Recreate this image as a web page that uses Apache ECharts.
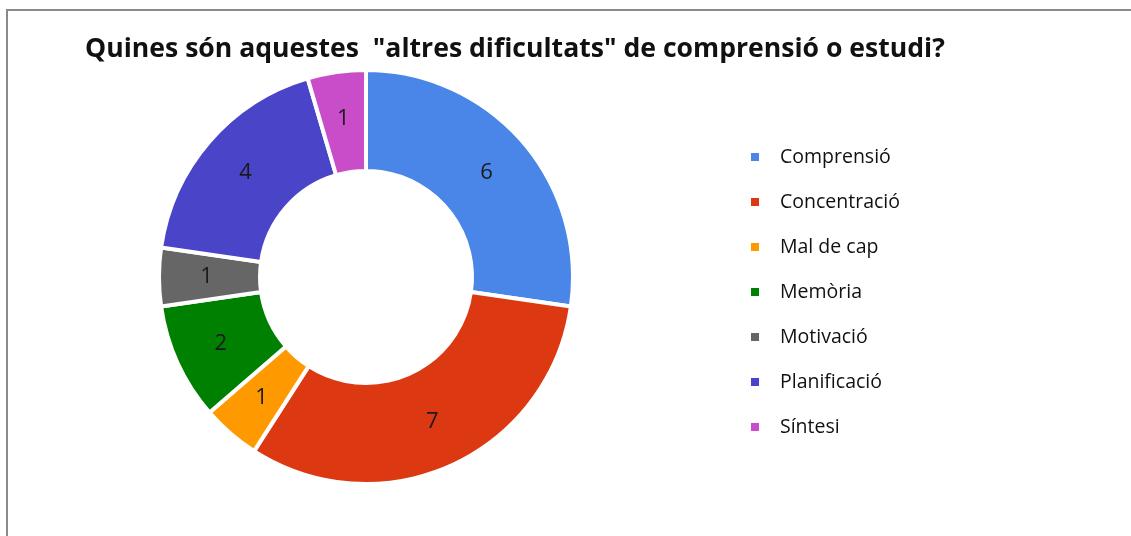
<!DOCTYPE html>
<html>
<head>
<meta charset="utf-8">
<script src="https://cdn.jsdelivr.net/npm/echarts@6/dist/echarts.min.js"></script>
<style>
  html, body { margin: 0; padding: 0; background: #fff; }
  .frame {
    position: absolute;
    left: 6px;
    top: 9px;
    width: 1200px;
    height: 600px;
    border-left: 2px solid #8a8a8a;
    border-top: 2px solid #8a8a8a;
  }
  #chart { position: absolute; left: 0; top: 0; width: 1131px; height: 536px; }
</style>
</head>
<body>
<div class="frame"></div>
<div id="chart"></div>
<script>
const categories = ['Comprensió', 'Concentració', 'Mal de cap', 'Memòria', 'Motivació', 'Planificació', 'Síntesi']
const counts = [6, 7, 1, 2, 1, 4, 1]
const colors = ['#4a86e8', '#dc3912', '#ff9900', '#008000', '#666666', '#4a44c9', '#c94dc9']

const chart = echarts.init(document.getElementById('chart'), null, { renderer: 'canvas' })

const option = {
  animation: false,
  color: colors,
  title: {
    text: 'Quines són aquestes  "altres dificultats" de comprensió o estudi?',
    left: 510,
    top: 31,
    textAlign: 'center',
    textStyle: {
      fontFamily: 'Open Sans',
      fontWeight: 'bold',
      fontSize: 26.6,
      color: '#111'
    }
  },
  legend: {
    orient: 'vertical',
    left: 744,
    top: 140,
    icon: 'rect',
    itemWidth: 10,
    itemHeight: 10,
    itemGap: 21,
    textStyle: {
      fontFamily: 'Open Sans',
      fontSize: 19.5,
      color: '#111',
      padding: [0, 0, 0, 15],
      lineHeight: 24
    },
    data: categories
  },
  series: [
    {
      type: 'pie',
      center: [366, 277],
      radius: [106, 207],
      startAngle: 90,
      clockwise: true,
      avoidLabelOverlap: false,
      itemStyle: {
        borderColor: '#fff',
        borderWidth: 4
      },
      label: {
        show: true,
        position: 'inside',
        formatter: '{c}',
        fontFamily: 'Open Sans',
        fontSize: 22,
        color: '#1a1a1a'
      },
      labelLine: { show: false },
      emphasis: { disabled: true },
      data: categories.map((name, i) => ({ name, value: counts[i] }))
    }
  ]
}

chart.setOption(option)
window.addEventListener('resize', () => chart.resize())
</script>
</body>
</html>
